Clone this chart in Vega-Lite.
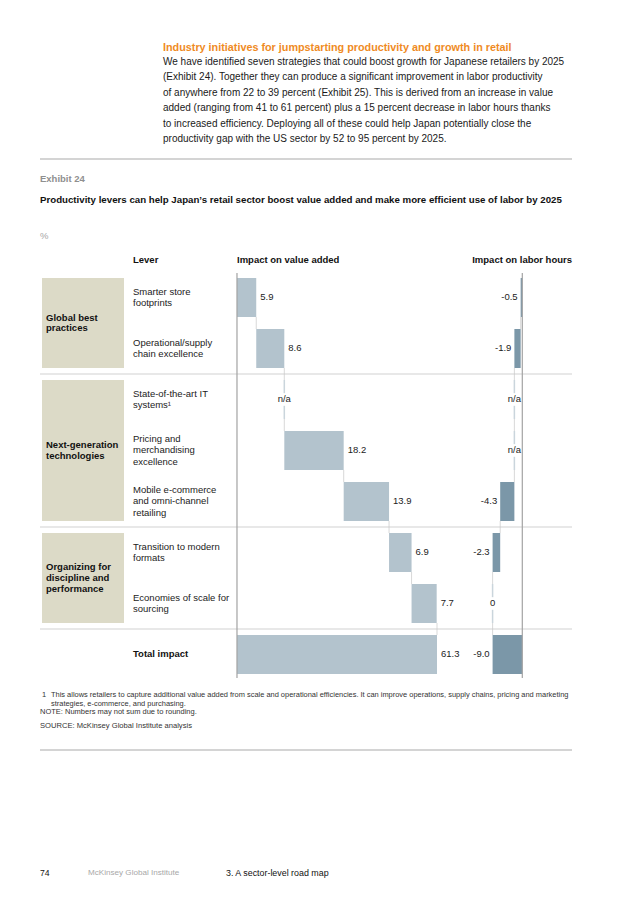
{
  "$schema": "https://vega.github.io/schema/vega-lite/v6.json",
  "width": 532,
  "height": 740,
  "autosize": "none",
  "padding": {"left": 40, "top": 150, "right": 64, "bottom": 10},
  "background": "white",
  "title": {
    "text": "Industry initiatives for jumpstarting productivity and growth in retail",
    "subtitle": [
      "We have identified seven strategies that could boost growth for Japanese retailers by 2025",
      "(Exhibit 24). Together they can produce a significant improvement in labor productivity",
      "of anywhere from 22 to 39 percent (Exhibit 25). This is derived from an increase in value",
      "added (ranging from 41 to 61 percent) plus a 15 percent decrease in labor hours thanks",
      "to increased efficiency. Deploying all of these could help Japan potentially close the",
      "productivity gap with the US sector by 52 to 95 percent by 2025."
    ],
    "anchor": "start",
    "frame": "group",
    "dx": 123,
    "offset": 6,
    "font": "Liberation Sans",
    "fontSize": 10.8,
    "fontWeight": "bold",
    "color": "#ef8b1f",
    "subtitleFont": "Liberation Sans",
    "subtitleFontSize": 10,
    "subtitleColor": "#1a1a1a",
    "subtitleLineHeight": 15.4,
    "subtitlePadding": 4
  },
  "datasets": {
    "levers": [
      {"row": 0, "kind": "lever", "group": "Global best|practices", "lever": "Smarter store|footprints", "vaStart": 0, "vaEnd": 5.9, "vaLabel": "5.9", "lhStart": 0, "lhEnd": -0.5, "lhLabel": "-0.5"},
      {"row": 1, "kind": "lever", "group": "Global best|practices", "lever": "Operational/supply|chain excellence", "vaStart": 5.9, "vaEnd": 14.5, "vaLabel": "8.6", "lhStart": -0.5, "lhEnd": -2.4, "lhLabel": "-1.9"},
      {"row": 2, "kind": "lever", "group": "Next-generation|technologies", "lever": "State-of-the-art IT|systems¹", "vaStart": 14.5, "vaEnd": 14.5, "vaLabel": "n/a", "lhStart": -2.4, "lhEnd": -2.4, "lhLabel": "n/a"},
      {"row": 3, "kind": "lever", "group": "Next-generation|technologies", "lever": "Pricing and|merchandising|excellence", "vaStart": 14.5, "vaEnd": 32.7, "vaLabel": "18.2", "lhStart": -2.4, "lhEnd": -2.4, "lhLabel": "n/a"},
      {"row": 4, "kind": "lever", "group": "Next-generation|technologies", "lever": "Mobile e-commerce|and omni-channel|retailing", "vaStart": 32.7, "vaEnd": 46.6, "vaLabel": "13.9", "lhStart": -2.4, "lhEnd": -6.7, "lhLabel": "-4.3"},
      {"row": 5, "kind": "lever", "group": "Organizing for|discipline and|performance", "lever": "Transition to modern|formats", "vaStart": 46.6, "vaEnd": 53.5, "vaLabel": "6.9", "lhStart": -6.7, "lhEnd": -9.0, "lhLabel": "-2.3"},
      {"row": 6, "kind": "lever", "group": "Organizing for|discipline and|performance", "lever": "Economies of scale for|sourcing", "vaStart": 53.5, "vaEnd": 61.2, "vaLabel": "7.7", "lhStart": -9.0, "lhEnd": -9.0, "lhLabel": "0"},
      {"row": 7, "kind": "total", "group": null, "lever": "Total impact", "vaStart": 0, "vaEnd": 61.3, "vaLabel": "61.3", "lhStart": 0, "lhEnd": -9.0, "lhLabel": "-9.0"}
    ]
  },
  "data": {"name": "levers"},
  "layer": [
    {
      "layer": [
        {"data": {"values": [{}]}, "mark": {"type": "rule", "color": "#c6c6c6", "strokeWidth": 1.5}, "encoding": {"y": {"datum": -2.716, "scale": {"domain": [-2.892, 11.618], "nice": false, "zero": false, "reverse": true, "padding": 0}}}},
        {"data": {"values": [{}]}, "mark": {"type": "rule", "color": "#c6c6c6", "strokeWidth": 1.5}, "encoding": {"y": {"datum": 8.873}}},
        {"data": {"values": [{}]}, "mark": {"type": "rule", "color": "#d2d2d2", "strokeWidth": 1.2}, "encoding": {"y": {"datum": 1.5}}},
        {"data": {"values": [{}]}, "mark": {"type": "rule", "color": "#d2d2d2", "strokeWidth": 1.2}, "encoding": {"y": {"datum": 4.5}}},
        {"data": {"values": [{}]}, "mark": {"type": "rule", "color": "#d2d2d2", "strokeWidth": 1.2}, "encoding": {"y": {"datum": 6.5}}},
        {"data": {"values": [{"t": "Exhibit 24"}]}, "mark": {"type": "text", "align": "left", "baseline": "middle", "fontSize": 9.5, "fontWeight": "bold", "color": "#8f8f8f"}, "encoding": {"x": {"datum": -60.37, "scale": {"domain": [-60.37, 102.67], "nice": false, "zero": false, "padding": 0}}, "y": {"datum": -2.324}, "text": {"field": "t"}}},
        {"data": {"values": [{"t": "Productivity levers can help Japan’s retail sector boost value added and make more efficient use of labor by 2025"}]}, "mark": {"type": "text", "align": "left", "baseline": "middle", "fontSize": 9.7, "fontWeight": "bold", "color": "#111111"}, "encoding": {"x": {"datum": -60.37}, "y": {"datum": -1.912}, "text": {"field": "t"}}},
        {"data": {"values": [{"t": "%"}]}, "mark": {"type": "text", "align": "left", "baseline": "middle", "fontSize": 9.5, "color": "#a6a6a6"}, "encoding": {"x": {"datum": -60.37}, "y": {"datum": -1.206}, "text": {"field": "t"}}},
        {"data": {"values": [{"t": "Lever"}]}, "mark": {"type": "text", "align": "left", "baseline": "middle", "fontSize": 9.5, "fontWeight": "bold", "color": "#111111"}, "encoding": {"x": {"datum": -31.87}, "y": {"datum": -0.735}, "text": {"field": "t"}}},
        {"data": {"values": [{"t": "Impact on value added"}]}, "mark": {"type": "text", "align": "left", "baseline": "middle", "fontSize": 9.5, "fontWeight": "bold", "color": "#111111"}, "encoding": {"x": {"datum": 0}, "y": {"datum": -0.735}, "text": {"field": "t"}}},
        {"data": {"values": [{"t": "Impact on labor hours"}]}, "mark": {"type": "text", "align": "right", "baseline": "middle", "fontSize": 9.5, "fontWeight": "bold", "color": "#111111"}, "encoding": {"x": {"datum": 102.67}, "y": {"datum": -0.735}, "text": {"field": "t"}}},
        {"data": {"values": [{"t": "1"}]}, "mark": {"type": "text", "align": "left", "baseline": "middle", "fontSize": 7.5, "color": "#333333"}, "encoding": {"x": {"datum": -59.76}, "y": {"datum": 7.794}, "text": {"field": "t"}}},
        {"data": {"values": [{"t": "This allows retailers to capture additional value added from scale and operational efficiencies. It can improve operations, supply chains, pricing and marketing"}]}, "mark": {"type": "text", "align": "left", "baseline": "middle", "fontSize": 7.45, "color": "#333333"}, "encoding": {"x": {"datum": -57.0}, "y": {"datum": 7.794}, "text": {"field": "t"}}},
        {"data": {"values": [{"t": "strategies, e-commerce, and purchasing."}]}, "mark": {"type": "text", "align": "left", "baseline": "middle", "fontSize": 7.45, "color": "#333333"}, "encoding": {"x": {"datum": -57.0}, "y": {"datum": 7.971}, "text": {"field": "t"}}},
        {"data": {"values": [{"t": "NOTE: Numbers may not sum due to rounding."}]}, "mark": {"type": "text", "align": "left", "baseline": "middle", "fontSize": 7.5, "color": "#333333"}, "encoding": {"x": {"datum": -60.37}, "y": {"datum": 8.133}, "text": {"field": "t"}}},
        {"data": {"values": [{"t": "SOURCE:  McKinsey Global Institute analysis"}]}, "mark": {"type": "text", "align": "left", "baseline": "middle", "fontSize": 7.6, "color": "#333333"}, "encoding": {"x": {"datum": -60.37}, "y": {"datum": 8.396}, "text": {"field": "t"}}},
        {"data": {"values": [{"t": "74"}]}, "mark": {"type": "text", "align": "left", "baseline": "middle", "fontSize": 8.6, "color": "#111111"}, "encoding": {"x": {"datum": -60.37}, "y": {"datum": 11.284}, "text": {"field": "t"}}},
        {"data": {"values": [{"t": "McKinsey Global Institute"}]}, "mark": {"type": "text", "align": "left", "baseline": "middle", "fontSize": 8.1, "color": "#a8a8a8"}, "encoding": {"x": {"datum": -45.66}, "y": {"datum": 11.284}, "text": {"field": "t"}}},
        {"data": {"values": [{"t": "3. A sector-level road map"}]}, "mark": {"type": "text", "align": "left", "baseline": "middle", "fontSize": 8.9, "color": "#111111"}, "encoding": {"x": {"datum": -3.37}, "y": {"datum": 11.284}, "text": {"field": "t"}}},
        {"transform": [{"filter": "datum.kind == 'lever'"}], "mark": {"type": "bar", "orient": "horizontal", "height": 39, "color": "#dcdac7"}, "encoding": {"x": {"datum": -59.76}, "x2": {"datum": -34.63}, "y": {"field": "row", "type": "quantitative"}}},
        {"transform": [{"filter": "datum.kind == 'lever'"}, {"aggregate": [{"op": "min", "field": "row", "as": "first"}, {"op": "max", "field": "row", "as": "last"}], "groupby": ["group"]}], "mark": {"type": "bar", "orient": "horizontal", "color": "#dcdac7"}, "encoding": {"x": {"datum": -59.76}, "x2": {"datum": -34.63}, "y": {"field": "first", "type": "quantitative"}, "y2": {"field": "last"}}},
        {"transform": [{"filter": "datum.kind == 'lever'"}, {"aggregate": [{"op": "mean", "field": "row", "as": "mid"}], "groupby": ["group"]}, {"filter": "length(split(datum.group, '|')) == 2"}], "mark": {"type": "text", "align": "left", "baseline": "middle", "dy": -5.4, "fontSize": 9.5, "fontWeight": "bold", "color": "#111111", "lineBreak": "|", "lineHeight": 10.8}, "encoding": {"x": {"datum": -58.53}, "y": {"field": "mid", "type": "quantitative"}, "text": {"field": "group"}}},
        {"transform": [{"filter": "datum.kind == 'lever'"}, {"aggregate": [{"op": "mean", "field": "row", "as": "mid"}], "groupby": ["group"]}, {"filter": "length(split(datum.group, '|')) == 3"}], "mark": {"type": "text", "align": "left", "baseline": "middle", "dy": -10.8, "fontSize": 9.5, "fontWeight": "bold", "color": "#111111", "lineBreak": "|", "lineHeight": 10.8}, "encoding": {"x": {"datum": -58.53}, "y": {"field": "mid", "type": "quantitative"}, "text": {"field": "group"}}},
        {"transform": [{"filter": "datum.kind == 'lever' && length(split(datum.lever, '|')) == 2"}], "mark": {"type": "text", "align": "left", "baseline": "middle", "dy": -5.85, "fontSize": 9.5, "color": "#222222", "lineBreak": "|", "lineHeight": 11.7}, "encoding": {"x": {"datum": -31.87}, "y": {"field": "row", "type": "quantitative"}, "text": {"field": "lever"}}},
        {"transform": [{"filter": "datum.kind == 'lever' && length(split(datum.lever, '|')) == 3"}], "mark": {"type": "text", "align": "left", "baseline": "middle", "dy": -11.7, "fontSize": 9.5, "color": "#222222", "lineBreak": "|", "lineHeight": 11.7}, "encoding": {"x": {"datum": -31.87}, "y": {"field": "row", "type": "quantitative"}, "text": {"field": "lever"}}},
        {"transform": [{"filter": "datum.kind == 'total'"}], "mark": {"type": "text", "align": "left", "baseline": "middle", "fontSize": 9.5, "fontWeight": "bold", "color": "#111111"}, "encoding": {"x": {"datum": -31.87}, "y": {"field": "row", "type": "quantitative"}, "text": {"field": "lever"}}},
        {"transform": [{"filter": "datum.kind == 'lever' && datum.row > 0"}], "mark": {"type": "tick", "orient": "vertical", "size": 12, "thickness": 1, "yOffset": -25.5, "color": "#c8c8c8"}, "encoding": {"x": {"field": "vaStart", "type": "quantitative"}, "y": {"field": "row", "type": "quantitative"}}},
        {"transform": [{"filter": "datum.kind == 'total'"}], "mark": {"type": "tick", "orient": "vertical", "size": 12, "thickness": 1, "yOffset": -25.5, "color": "#c8c8c8"}, "encoding": {"x": {"field": "vaEnd", "type": "quantitative"}, "y": {"field": "row", "type": "quantitative"}}},
        {"transform": [{"filter": "datum.vaLabel == 'n/a'"}], "mark": {"type": "tick", "orient": "vertical", "size": 39, "thickness": 1.5, "color": "#b3c3cd"}, "encoding": {"x": {"field": "vaEnd", "type": "quantitative"}, "y": {"field": "row", "type": "quantitative"}}},
        {"mark": {"type": "bar", "orient": "horizontal", "height": 39, "color": "#b3c3cd"}, "encoding": {"x": {"field": "vaStart", "type": "quantitative", "scale": {"domain": [-60.37, 102.67], "nice": false, "zero": false, "padding": 0}}, "x2": {"field": "vaEnd"}, "y": {"field": "row", "type": "quantitative", "scale": {"domain": [-2.892, 11.618], "nice": false, "zero": false, "reverse": true, "padding": 0}}}},
        {"transform": [{"filter": "datum.vaLabel == 'n/a'"}], "mark": {"type": "point", "shape": "square", "filled": true, "size": 160, "color": "white", "opacity": 1}, "encoding": {"x": {"field": "vaEnd", "type": "quantitative"}, "y": {"field": "row", "type": "quantitative"}}},
        {"transform": [{"filter": "datum.vaLabel != 'n/a'"}], "mark": {"type": "text", "align": "left", "baseline": "middle", "dx": 4, "fontSize": 9.5, "color": "#222222"}, "encoding": {"x": {"field": "vaEnd", "type": "quantitative"}, "y": {"field": "row", "type": "quantitative"}, "text": {"field": "vaLabel"}}},
        {"transform": [{"filter": "datum.vaLabel == 'n/a'"}], "mark": {"type": "text", "align": "center", "baseline": "middle", "fontSize": 9.5, "color": "#222222"}, "encoding": {"x": {"field": "vaEnd", "type": "quantitative"}, "y": {"field": "row", "type": "quantitative"}, "text": {"field": "vaLabel"}}},
        {"data": {"values": [{}]}, "mark": {"type": "rule", "color": "#a3a3a3", "strokeWidth": 1.2}, "encoding": {"x": {"datum": 0}, "y": {"datum": -0.48}, "y2": {"datum": 7.461}}}
      ]
    },
    {
      "layer": [
        {"transform": [{"filter": "datum.kind == 'lever' && datum.row > 0"}], "mark": {"type": "tick", "orient": "vertical", "size": 12, "thickness": 1, "yOffset": -25.5, "color": "#c8c8c8"}, "encoding": {"x": {"field": "lhStart", "type": "quantitative", "scale": {"domain": [-146.15, 15.06], "nice": false, "zero": false, "padding": 0}}, "y": {"field": "row", "type": "quantitative"}}},
        {"transform": [{"filter": "datum.kind == 'total'"}], "mark": {"type": "tick", "orient": "vertical", "size": 12, "thickness": 1, "yOffset": -25.5, "color": "#c8c8c8"}, "encoding": {"x": {"field": "lhEnd", "type": "quantitative"}, "y": {"field": "row", "type": "quantitative"}}},
        {"transform": [{"filter": "datum.lhLabel == 'n/a' || datum.lhLabel == '0'"}], "mark": {"type": "tick", "orient": "vertical", "size": 39, "thickness": 1.5, "color": "#b3c3cd"}, "encoding": {"x": {"field": "lhEnd", "type": "quantitative"}, "y": {"field": "row", "type": "quantitative"}}},
        {"mark": {"type": "bar", "orient": "horizontal", "height": 39, "color": "#7b97a8"}, "encoding": {"x": {"field": "lhStart", "type": "quantitative", "scale": {"domain": [-146.15, 15.06], "nice": false, "zero": false, "padding": 0}}, "x2": {"field": "lhEnd"}, "y": {"field": "row", "type": "quantitative"}}},
        {"transform": [{"filter": "datum.lhLabel == 'n/a' || datum.lhLabel == '0'"}], "mark": {"type": "point", "shape": "square", "filled": true, "size": 160, "color": "white", "opacity": 1}, "encoding": {"x": {"field": "lhEnd", "type": "quantitative"}, "y": {"field": "row", "type": "quantitative"}}},
        {"transform": [{"filter": "datum.lhLabel != 'n/a' && datum.lhLabel != '0'"}], "mark": {"type": "text", "align": "right", "baseline": "middle", "dx": -3, "fontSize": 9.5, "color": "#222222"}, "encoding": {"x": {"field": "lhEnd", "type": "quantitative"}, "y": {"field": "row", "type": "quantitative"}, "text": {"field": "lhLabel"}}},
        {"transform": [{"filter": "datum.lhLabel == 'n/a' || datum.lhLabel == '0'"}], "mark": {"type": "text", "align": "center", "baseline": "middle", "fontSize": 9.5, "color": "#222222"}, "encoding": {"x": {"field": "lhEnd", "type": "quantitative"}, "y": {"field": "row", "type": "quantitative"}, "text": {"field": "lhLabel"}}},
        {"data": {"values": [{}]}, "mark": {"type": "rule", "color": "#a3a3a3", "strokeWidth": 1.2}, "encoding": {"x": {"datum": 0}, "y": {"datum": -0.48}, "y2": {"datum": 7.461}}}
      ]
    }
  ],
  "resolve": {"scale": {"x": "independent"}},
  "config": {
    "view": {"stroke": null},
    "axis": {"disable": true},
    "legend": {"disable": true},
    "scale": {"continuousPadding": 0},
    "text": {"font": "Liberation Sans"}
  }
}
